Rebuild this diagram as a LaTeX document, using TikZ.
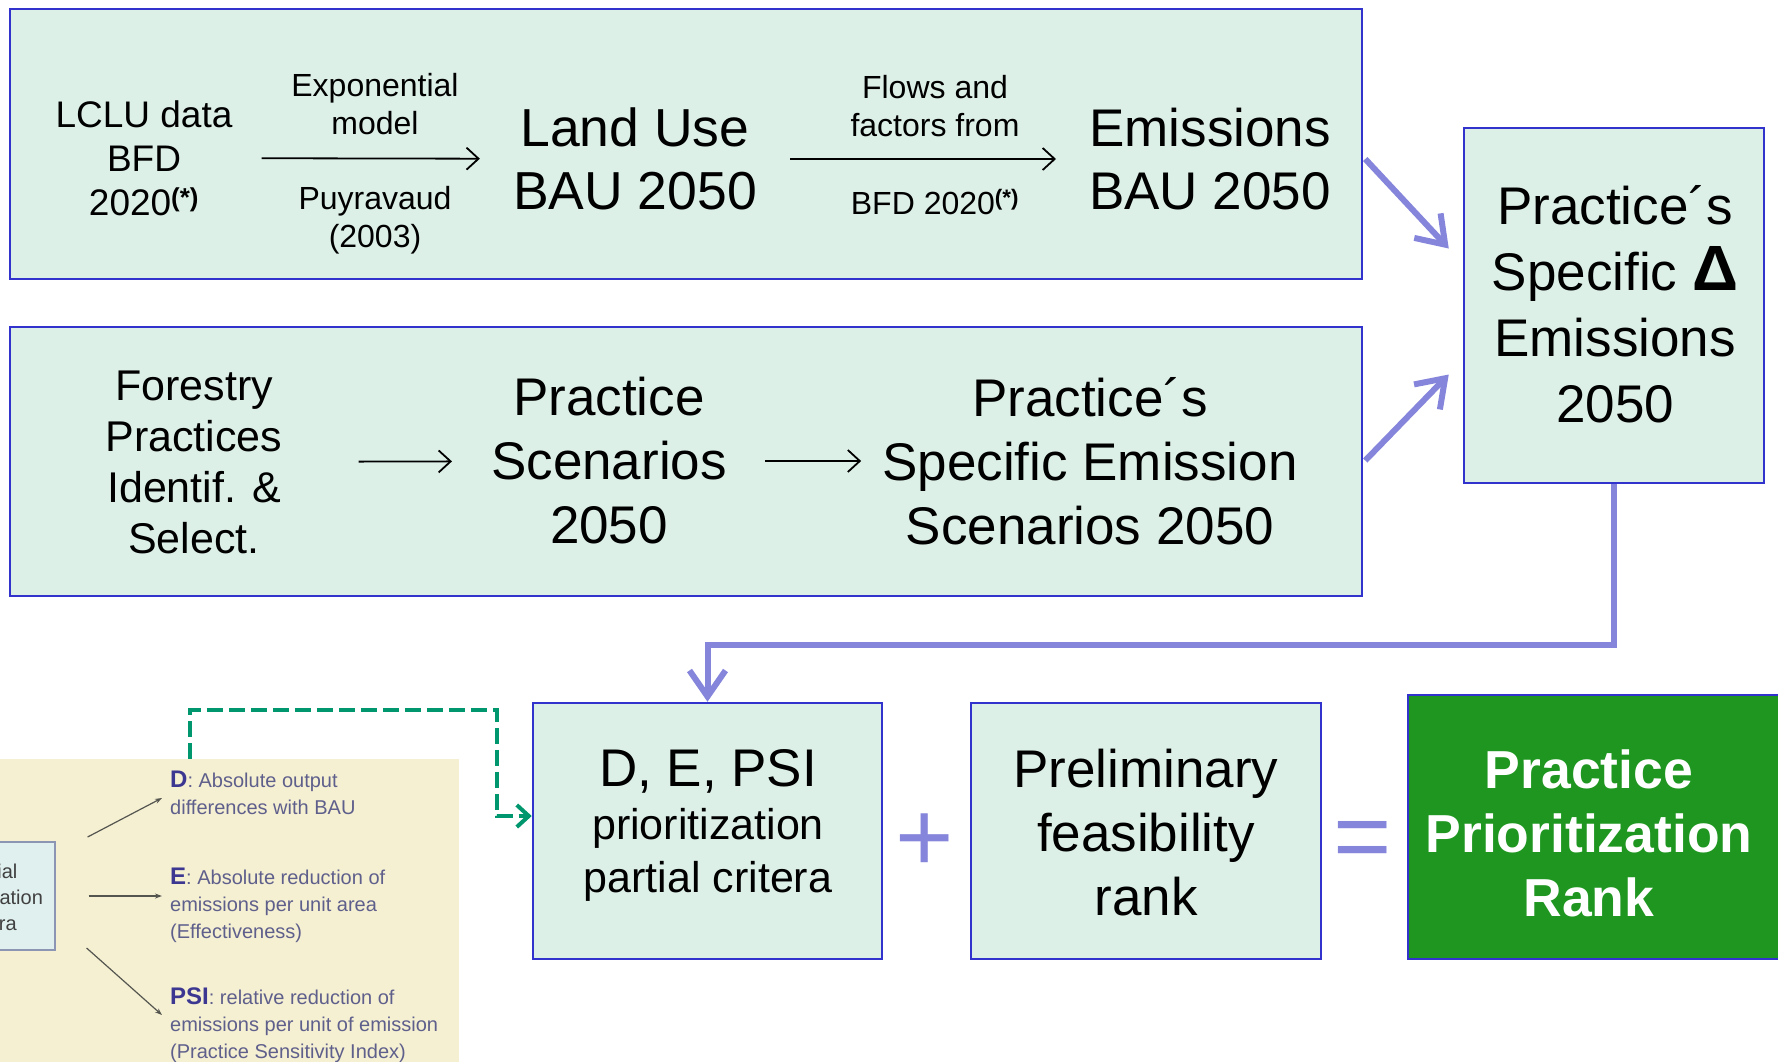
\documentclass[tikz,border=0pt]{standalone}
\usepackage{fontspec}
\setmainfont{Liberation Sans}
\usetikzlibrary{arrows.meta,calc}
\definecolor{boxfill}{RGB}{221,240,232}
\definecolor{boxline}{RGB}{50,50,205}
\definecolor{lavender}{RGB}{133,133,220}
\definecolor{linkgreen}{RGB}{0,150,110}
\definecolor{rankgreen}{RGB}{30,150,32}
\definecolor{panelfill}{RGB}{245,240,210}
\definecolor{critfill}{RGB}{224,240,238}
\definecolor{critline}{RGB}{140,150,180}
\definecolor{inkblue}{RGB}{60,55,145}
\definecolor{inkgray}{RGB}{95,95,140}
\definecolor{arrowgray}{RGB}{85,85,80}
\newcommand{\fsz}[2]{\fontsize{#1}{#2}\selectfont}
\newcommand{\crit}[1]{{\fsz{24}{27}\bfseries\textcolor{inkblue}{#1}}}

\begin{document}
\begin{tikzpicture}[x=1pt,y=-1pt,
    stagebox/.style={draw=boxline,line width=2.5pt,fill=boxfill,inner sep=0pt},
    txt/.style={align=center,inner sep=0pt},
    paneltxt/.style={anchor=west,align=left,inner sep=0pt,text=inkgray,font={\fsz{20}{27}}},
    flow/.style={-{Straight Barb[length=12pt,width=22pt]},line width=1.8pt},
    bigflow/.style={lavender,line width=6pt,-{Straight Barb[length=26pt,width=36pt]}},
    greenlink/.style={linkgreen,line width=4pt,dash pattern=on 16pt off 6pt,
      -{Straight Barb[length=12pt,width=22pt]}},
    tinyflow/.style={arrowgray,line width=1.2pt,-{Stealth[length=7pt,width=5pt]}}]
  \useasboundingbox (0,0) rectangle (1778,1061);
  \clip (0,0) rectangle (1778,1061);

  \node[stagebox,minimum width=1352pt,minimum height=270pt] (bau) at (686,144) {};
  \node[stagebox,minimum width=1352pt,minimum height=269pt] (prac) at (686,461.5) {};
  \node[stagebox,minimum width=300pt,minimum height=355pt] (delta) at (1614,305.5) {};
  \node[stagebox,minimum width=349pt,minimum height=256pt] (depsi) at (707.5,831) {};
  \node[stagebox,minimum width=350pt,minimum height=256pt] (prelim) at (1146,831) {};
  \node[stagebox,fill=rankgreen,minimum width=420pt,minimum height=264pt] (rank) at (1618,827) {};
  \node[fill=panelfill,inner sep=0pt,minimum width=459pt,minimum height=320pt] (panel) at (229.5,919) {};
  \node[draw=critline,line width=1.2pt,fill=critfill,inner sep=0pt,
    minimum width=120pt,minimum height=108pt] (crit) at (-5,896) {};

  \node[txt,font={\fsz{37}{44}}] (lclu) at (144,158) {LCLU data\\BFD\\2020\textsuperscript{\textbf{(*)}}};
  \node[txt,font={\fsz{32}{38}}] (expo) at (375,104) {Exponential\\model};
  \node[txt,font={\fsz{32}{38}}] (puyr) at (375,220) {Puyravaud\\(2003)};
  \node[txt,font={\fsz{53.5}{63}}] (landuse) at (635,159) {Land Use\\BAU 2050};
  \node[txt,font={\fsz{32}{38}}] (flows) at (935,106) {Flows and\\factors from};
  \node[txt,font={\fsz{32}{38}}] (bfd) at (935,202) {BFD 2020\textsuperscript{\textbf{(*)}}};
  \node[txt,font={\fsz{53}{63}}] (emisbau) at (1210,159) {Emissions\\BAU 2050};

  \node[txt,font={\fsz{43}{51}}] (forest) at (194,462) {Forestry\\Practices\\Identif. \&\\Select.};
  \node[txt,font={\fsz{53}{64}}] (scen) at (609,461) {Practice\\Scenarios\\2050};
  \node[txt,font={\fsz{53}{64}}] (specem) at (1090,461) {Practice´s\\Specific Emission\\Scenarios 2050};

  \node[txt,font={\fsz{53}{66}}] (deltatxt) at (1615,304) {Practice´s\\Specific {\fsz{64}{66}\textbf{Δ}}\\Emissions\\2050};

  \node[txt,font={\fsz{43}{53}}] (depsitxt) at (708,825) {{\fsz{53}{60}D, E, PSI}\\prioritization\\partial critera};
  \node[txt,font={\fsz{53}{64}}] (prelimtxt) at (1146,833) {Preliminary\\feasibility\\rank};
  \node[txt,font={\fsz{53.5}{64}\bfseries},text=white] (ranktxt) at (1589,833) {Practice\\Prioritization\\Rank};
  \node[txt,text=lavender,font={\fsz{100}{100}}] (plus) at (925,843) {+};
  \node[txt,text=lavender,font={\fsz{100}{100}}] (equals) at (1363,846) {=};

  \node[txt,text=black!75,font={\fsz{20}{26}}] (crittxt) at (-11,897) {Partial\\prioritization\\critera};
  \node[paneltxt] (dtxt) at (170,793) {\crit{D}: Absolute output\\differences with BAU};
  \node[paneltxt] (etxt) at (170,905) {\crit{E}: Absolute reduction of\\emissions per unit area\\(Effectiveness)};
  \node[paneltxt] (psitxt) at (170,1025) {\crit{PSI}: relative reduction of\\emissions per unit of emission\\(Practice Sensitivity Index)};

  \draw[flow,shorten <=29pt,shorten >=33pt] (lclu) -- (landuse);
  \draw[flow,shorten <=33pt,shorten >=33pt] (landuse) -- (emisbau);
  \draw[flow,shorten <=76pt,shorten >=39pt] (forest) -- (scen);
  \draw[flow,shorten <=38pt,shorten >=21pt] (scen) -- (specem);

  \draw[bigflow] ($(bau.east)+(2,15)$) -- ($(delta.west)+(-14,-57)$);
  \draw[bigflow] ($(prac.east)+(2,-1)$) -- ($(delta.west)+(-14,69)$);
  \draw[bigflow] (delta.south) -- ++(0,161) -| (depsi.north);

  \draw[greenlink] ($(panel.north west)+(190,0)$) |- ++(307,-49) |- ($(depsi.west)+(0,-15)$);

  \draw[tinyflow] ([xshift=32pt,yshift=59pt]crit.east) -- ([xshift=-8pt,yshift=-5pt]dtxt.west);
  \draw[tinyflow] ([xshift=33pt]crit.east) -- ([xshift=-8pt,yshift=9pt]etxt.west);
  \draw[tinyflow] ([xshift=31pt,yshift=-52pt]crit.east) -- ([xshift=-8pt,yshift=10pt]psitxt.west);
\end{tikzpicture}
\end{document}
